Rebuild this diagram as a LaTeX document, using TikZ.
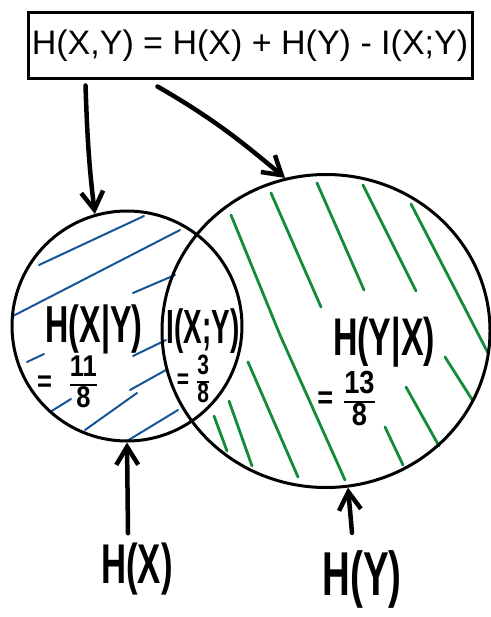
\documentclass[tikz,border=0pt]{standalone}
\usepackage{fontspec}
\setmainfont{Liberation Sans}
\usetikzlibrary{arrows.meta,shapes.geometric}
\definecolor{hatchblue}{RGB}{22,86,150}
\definecolor{hatchgreen}{RGB}{18,140,58}
\setlength{\arrayrulewidth}{2.5pt}
\renewcommand{\arraystretch}{0.74}
\newcommand{\hand}[3]{\scalebox{#1}[1]{\fontsize{#2}{#2}\selectfont\bfseries #3}}
\newcommand{\handfrac}[2]{\begin{tabular}{@{}c@{}}#1\\\hline #2\end{tabular}}

\begin{document}
\begin{tikzpicture}[x=1pt,y=1pt, >={Straight Barb[length=18pt,width=22pt]},
  set/.style={draw,line width=3pt,inner sep=0pt},
  eqbox/.style={draw,line width=3pt,minimum width=444pt,minimum height=66pt,inner sep=0pt,font=\fontsize{34}{34}\selectfont},
  lbl/.style={inner sep=0pt,anchor=base},
  val/.style={inner sep=0pt},
  blue hatch/.style={hatchblue,line width=2pt,line cap=round},
  green hatch/.style={hatchgreen,line width=2.8pt,line cap=round,line join=round},
  pointer/.style={->,line width=4.5pt,line cap=round}]
  \useasboundingbox (0,0) rectangle (490,-617);
  \node[eqbox] (eq) at (250,-46) {H(X,Y) = H(X) + H(Y) - I(X;Y)};
  % hatching under the circles
  \foreach \a/\b/\c/\d in {39/265/144/216, 13/316/180/230, 133/293/175/275,
      27/362/44/354, 133/356/166/340, 50/412/71/399, 130/390/166/370,
      85/430/137/393, 127/441/178/410}
    \draw[blue hatch] (\a,-\b) -- (\c,-\d);
  \foreach \a/\b/\c/\d in {271/193/321/307, 317/183/364/290, 363/185/416/291,
      411/204/488/353, 445/357/473/401, 406/387/439/446, 385/427/403/465,
      248/362/298/477, 229/401/252/466, 214/416/227/451}
    \draw[green hatch] (\a,-\b) -- (\c,-\d);
  \draw[green hatch] (231,-215) -- (280,-335) -- (345,-480);
  % the two sets
  \node[set,circle,minimum size=230pt] (hx set) at (127,-326) {};
  \node[set,ellipse,minimum width=328pt,minimum height=313pt] (hy set) at (326,-331) {};
  % texts
  \node[lbl] (hxgy) at (94,-342) {\hand{0.62}{52}{H(X|Y)}};
  \node[val] (hxgy val) at (67,-385) {\hand{0.85}{30}{=\hspace{0.7em}\handfrac{11}{8}}};
  \node[lbl] (ixy) at (203,-343) {\hand{0.58}{48}{I(X;Y)}};
  \node[val] (ixy val) at (193,-382) {\hand{0.75}{28}{=\hspace{0.4em}\handfrac{3}{8}}};
  \node[lbl] (hygx) at (384,-355) {\hand{0.64}{53}{H(Y|X)}};
  \node[val] (hygx val) at (346,-402) {\hand{0.85}{32}{=\hspace{0.4em}\handfrac{13}{8}}};
  \node[lbl] (hx) at (137,-583) {\hand{0.62}{56}{H(X)}};
  \node[lbl] (hy) at (362,-595) {\hand{0.62}{62}{H(Y)}};
  % arrows
  \draw[pointer] ([xshift=59pt,yshift=-5pt]eq.south west) to[out=-88,in=97] (hx set.106);
  \draw[pointer] ([xshift=131pt,yshift=-6pt]eq.south west) to[out=-30,in=140] (hy set.105);
  \draw[pointer] ([xshift=-9pt,yshift=9pt]hx.north) -- (hx set.south);
  \draw[pointer] ([xshift=-10pt,yshift=17pt]hy.north) -- (hy set.-82);
\end{tikzpicture}
\end{document}
